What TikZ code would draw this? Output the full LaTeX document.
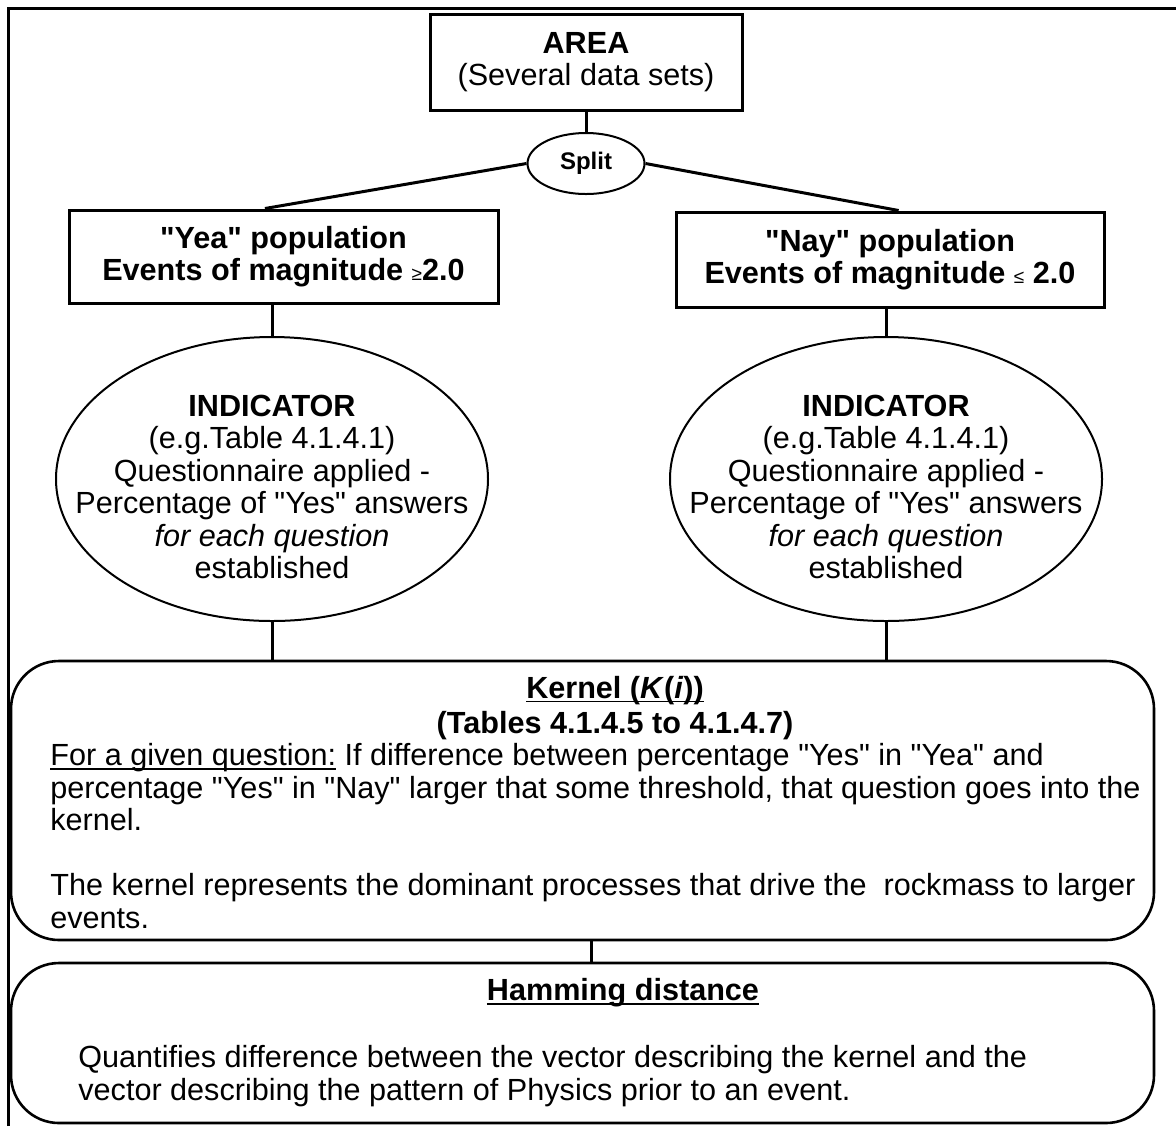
\documentclass[tikz,border=0pt]{standalone}
\usepackage{fontspec}
\setmainfont{Liberation Sans}[Ligatures=TeXOff]
\usetikzlibrary{positioning,calc,shapes.geometric}
\newcommand{\hdsize}{\fontsize{15.3}{16.25}\selectfont}
\newcommand{\hdrel}[1]{{\mdseries\fontsize{9.5}{9.5}\selectfont #1}}
\newsavebox{\hdulbox}
\newcommand{\hdul}[1]{\sbox{\hdulbox}{#1}\rlap{\usebox{\hdulbox}}\rule[-2pt]{\wd\hdulbox}{0.75pt}}
\tikzset{
  hd/box/.style={
    draw, line width=1.5pt, align=center, inner sep=0pt, font=\hdsize
  },
  hd/oval/.style={draw, ellipse, line width=1pt, inner sep=0pt},
  hd/panel/.style={draw, line width=1.3pt, rounded corners=24pt, inner sep=0pt},
  hd/txt/.style={align=center, inner sep=0pt, font=\hdsize},
  hd/para/.style={align=left, inner sep=0pt, font=\hdsize, anchor=north west},
  hd/link/.style={line width=1.5pt}
}

\begin{document}
\begin{tikzpicture}[x=0.5pt, y=-0.5pt]
  \useasboundingbox (0,0) rectangle (1176,1126);
  % frame
  \draw[line width=1.5pt] (8,1126) -- (8,8) -- (1176,8);

  \node[hd/box, minimum width=156pt, minimum height=48pt] (area) at (586,62)
    {\textbf{AREA}\\(Several data sets)};
  \node[hd/oval, minimum width=58.5pt, minimum height=30.5pt,
        font=\fontsize{12}{12}\selectfont\bfseries] (split) at (586,163.5) {Split};

  \node[hd/box, minimum width=214.5pt, minimum height=46.5pt, font=\hdsize\bfseries] (yea) at (283.5,256.5)
    {"Yea" population\\Events of magnitude \hdrel{≥}2.0};
  \node[hd/box, minimum width=214pt, minimum height=47.5pt, font=\hdsize\bfseries] (nay) at (890,259.5)
    {"Nay" population\\Events of magnitude \hdrel{≤} 2.0};

  \node[hd/oval, minimum width=216pt, minimum height=142pt] (yeaind) at (272,479) {};
  \node[hd/txt] (yeaindtxt) at (yeaind.center) [yshift=-4pt]
    {\textbf{INDICATOR}\\(e.g.Table 4.1.4.1)\\Questionnaire applied -\\Percentage of "Yes" answers\\\textit{for each question}\\established};
  \node[hd/oval, minimum width=216pt, minimum height=142pt] (nayind) at (886,479) {};
  \node[hd/txt] (nayindtxt) at (nayind.center) [yshift=-4pt]
    {\textbf{INDICATOR}\\(e.g.Table 4.1.4.1)\\Questionnaire applied -\\Percentage of "Yes" answers\\\textit{for each question}\\established};

  \node[hd/panel, minimum width=571.5pt, minimum height=139.5pt] (kernel) at (582.5,800.5) {};
  \node[hd/txt, font=\hdsize\bfseries] (kerneltitle) at (615,708)
    {\hdul{Kernel (\textit{K}(\textit{i}))}\\[1.5pt](Tables 4.1.4.5 to 4.1.4.7)};
  \node[hd/para] (kerneltxt) at (50,743)
    {\hdul{For a given question:} If difference between percentage "Yes" in "Yea" and\\
     percentage "Yes" in "Nay" larger that some threshold, that question goes into the\\
     kernel.\\[16.25pt]
     The kernel represents the dominant processes that drive the~ rockmass to larger\\
     events.};

  \node[hd/panel, minimum width=571.5pt, minimum height=80pt] (hamming) at (582.5,1043) {};
  \node[hd/txt, font=\hdsize\bfseries] (hamtitle) at (623,993) {\hdul{Hamming distance}};
  \node[hd/para] (hamtxt) at (78,1045)
    {Quantifies difference between the vector describing the kernel and the\\
     vector describing the pattern of Physics prior to an event.};

  \coordinate (khjoin) at (591,950);

  \draw[hd/link] (area) -- (split);
  \draw[hd/link] (split.west) -- ($(yea.north west)!0.457!(yea.north east)$);
  \draw[hd/link] (split.east) -- ($(nay.north west)!0.52!(nay.north east)$);
  \draw[hd/link] (yeaind.north |- yea.south) -- (yeaind.north);
  \draw[hd/link] (nayind.north |- nay.south) -- (nayind.north);
  \draw[hd/link] (yeaind.south) -- (yeaind.south |- kernel.north);
  \draw[hd/link] (nayind.south) -- (nayind.south |- kernel.north);
  \draw[hd/link] (kernel.south -| khjoin) -- (hamming.north -| khjoin);
\end{tikzpicture}
\end{document}
